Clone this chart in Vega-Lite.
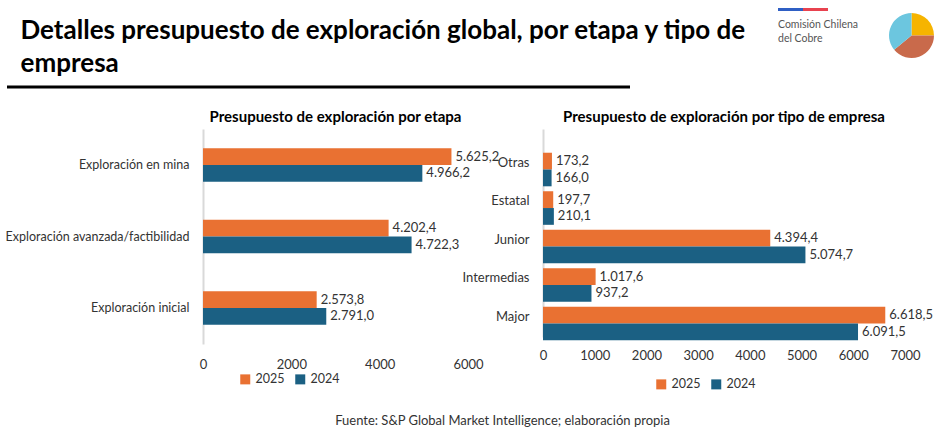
{
  "$schema": "https://vega.github.io/schema/vega-lite/v6.json",
  "background": "white",
  "padding": {"left": 5, "top": 8, "right": 5, "bottom": 5},
  "config": {
    "font": "Lato",
    "view": {"stroke": null},
    "locale": {"number": {"decimal": ",", "thousands": ".", "grouping": [3], "currency": ["$", ""]}}
  },
  "title": {
    "text": "Fuente: S&P Global Market Intelligence; elaboración propia",
    "orient": "bottom", "anchor": "middle", "fontSize": 13, "fontWeight": "normal",
    "color": "#333333", "offset": 24, "dx": 33
  },
  "datasets": {
    "etapa": [
      {"etapa": "Exploración en mina", "anio": "2025", "valor": 5625.2},
      {"etapa": "Exploración en mina", "anio": "2024", "valor": 4966.2},
      {"etapa": "Exploración avanzada/factibilidad", "anio": "2025", "valor": 4202.4},
      {"etapa": "Exploración avanzada/factibilidad", "anio": "2024", "valor": 4722.3},
      {"etapa": "Exploración inicial", "anio": "2025", "valor": 2573.8},
      {"etapa": "Exploración inicial", "anio": "2024", "valor": 2791.0}
    ],
    "tipo": [
      {"tipo": "Otras", "anio": "2025", "valor": 173.2},
      {"tipo": "Otras", "anio": "2024", "valor": 166.0},
      {"tipo": "Estatal", "anio": "2025", "valor": 197.7},
      {"tipo": "Estatal", "anio": "2024", "valor": 210.1},
      {"tipo": "Junior", "anio": "2025", "valor": 4394.4},
      {"tipo": "Junior", "anio": "2024", "valor": 5074.7},
      {"tipo": "Intermedias", "anio": "2025", "valor": 1017.6},
      {"tipo": "Intermedias", "anio": "2024", "valor": 937.2},
      {"tipo": "Major", "anio": "2025", "valor": 6618.5},
      {"tipo": "Major", "anio": "2024", "valor": 6091.5}
    ]
  },
  "vconcat": [
    {
      "hconcat": [
        {
          "width": 623, "height": 79,
          "data": {"values": [{"linea": 0}]},
          "mark": {"type": "rule", "color": "black", "strokeWidth": 3},
          "encoding": {
            "y": {"field": "linea", "type": "quantitative", "scale": {"domain": [0, 1]}, "axis": null}
          },
          "title": {
            "text": ["Detalles presupuesto de exploración global, por etapa y tipo de", "empresa"],
            "anchor": "start", "fontSize": 26, "fontWeight": "bold", "lineHeight": 33,
            "dx": 15, "color": "black", "offset": -69
          }
        },
        {
          "width": 50, "height": 3,
          "data": {"values": [{"parte": "azul", "v": 1}, {"parte": "rojo", "v": 1}]},
          "mark": {"type": "bar", "height": 3},
          "encoding": {
            "x": {"field": "v", "type": "quantitative", "stack": true, "axis": null},
            "color": {"field": "parte", "type": "nominal", "legend": null,
                      "scale": {"domain": ["azul", "rojo"], "range": ["#2F5FC4", "#E8424F"]}}
          },
          "title": {
            "text": ["Comisión Chilena", "del Cobre"], "orient": "bottom", "anchor": "start",
            "fontSize": 10.5, "fontWeight": "normal", "color": "#555555", "offset": 9, "lineHeight": 14
          }
        },
        {
          "width": 45, "height": 55,
          "data": {"values": [
            {"parte": "sol", "orden": 1, "v": 25},
            {"parte": "tierra", "orden": 2, "v": 39},
            {"parte": "mar", "orden": 3, "v": 36}
          ]},
          "mark": {"type": "arc"},
          "encoding": {
            "theta": {"field": "v", "type": "quantitative", "stack": true},
            "order": {"field": "orden", "sort": "ascending"},
            "color": {"field": "parte", "type": "nominal", "legend": null,
                      "scale": {"domain": ["sol", "tierra", "mar"], "range": ["#F6B400", "#C96A4B", "#6CC6DF"]}}
          }
        }
      ],
      "spacing": 30,
      "resolve": {"scale": {"color": "independent"}}
    },
    {
      "hconcat": [
        {
          "width": 36, "height": 1,
          "data": {"values": []},
          "mark": {"type": "point"},
          "encoding": {}
        },
        {
          "width": 265, "height": 215,
          "data": {"name": "etapa"},
          "title": {
            "text": "Presupuesto de exploración por etapa", "fontSize": 15, "fontWeight": "bold",
            "frame": "group", "anchor": "middle", "offset": 4, "color": "black"
          },
          "encoding": {
            "y": {
              "field": "etapa", "type": "nominal", "sort": null, "title": null,
              "scale": {"paddingInner": 0.53, "paddingOuter": 0.27},
              "axis": {"domainColor": "#d9d9d9", "domainWidth": 2, "ticks": false,
                       "labelFontSize": 12.5, "labelColor": "#333333", "labelPadding": 14, "labelLimit": 300}
            },
            "yOffset": {"field": "anio", "type": "nominal", "sort": ["2025", "2024"]},
            "x": {
              "field": "valor", "type": "quantitative", "title": null,
              "scale": {"domain": [0, 6000]},
              "axis": {"values": [0, 2000, 4000, 6000], "format": "d", "grid": false, "domain": false,
                       "ticks": false, "labelFlush": false, "labelFontSize": 13, "labelPadding": 14,
                       "labelColor": "#333333"}
            }
          },
          "layer": [
            {
              "mark": {"type": "bar"},
              "encoding": {
                "color": {
                  "field": "anio", "type": "nominal",
                  "scale": {"domain": ["2025", "2024"], "range": ["#E97132", "#1B6083"]},
                  "legend": {"orient": "none", "legendX": 36, "legendY": 244, "direction": "horizontal",
                             "title": null, "symbolType": "square", "symbolSize": 100, "labelFontSize": 12.5,
                             "labelColor": "#333333", "columnPadding": 9}
                }
              }
            },
            {
              "mark": {"type": "text", "align": "left", "dx": 4, "fontSize": 13, "color": "#333333"},
              "encoding": {"text": {"field": "valor", "type": "quantitative", "format": ",.1f"}}
            }
          ]
        },
        {
          "width": 362, "height": 208,
          "data": {"name": "tipo"},
          "title": {
            "text": "Presupuesto de exploración por tipo de empresa", "fontSize": 15, "fontWeight": "bold",
            "frame": "group", "anchor": "middle", "offset": 4, "color": "black"
          },
          "encoding": {
            "y": {
              "field": "tipo", "type": "nominal", "sort": null, "title": null,
              "scale": {"paddingInner": 0.48, "paddingOuter": 0.44, "align": 0.7},
              "axis": {"domainColor": "#d9d9d9", "domainWidth": 2, "ticks": false,
                       "labelFontSize": 13, "labelColor": "#333333", "labelPadding": 14}
            },
            "yOffset": {"field": "anio", "type": "nominal", "sort": ["2025", "2024"]},
            "x": {
              "field": "valor", "type": "quantitative", "title": null,
              "scale": {"domain": [0, 7000]},
              "axis": {"values": [0, 1000, 2000, 3000, 4000, 5000, 6000, 7000], "format": "d", "grid": false,
                       "domain": false, "ticks": false, "labelFlush": false, "labelFontSize": 13,
                       "labelPadding": 12, "labelColor": "#333333"}
            }
          },
          "layer": [
            {
              "mark": {"type": "bar"},
              "encoding": {
                "color": {
                  "field": "anio", "type": "nominal",
                  "scale": {"domain": ["2025", "2024"], "range": ["#E97132", "#1B6083"]},
                  "legend": {"orient": "none", "legendX": 112, "legendY": 249, "direction": "horizontal",
                             "title": null, "symbolType": "square", "symbolSize": 100, "labelFontSize": 12.5,
                             "labelColor": "#333333", "columnPadding": 9}
                }
              }
            },
            {
              "mark": {"type": "text", "align": "left", "dx": 4, "fontSize": 13, "color": "#333333"},
              "encoding": {"text": {"field": "valor", "type": "quantitative", "format": ",.1f"}}
            }
          ]
        }
      ],
      "spacing": -38,
      "resolve": {"scale": {"color": "independent"}, "legend": {"color": "independent"}}
    }
  ],
  "spacing": 21
}
